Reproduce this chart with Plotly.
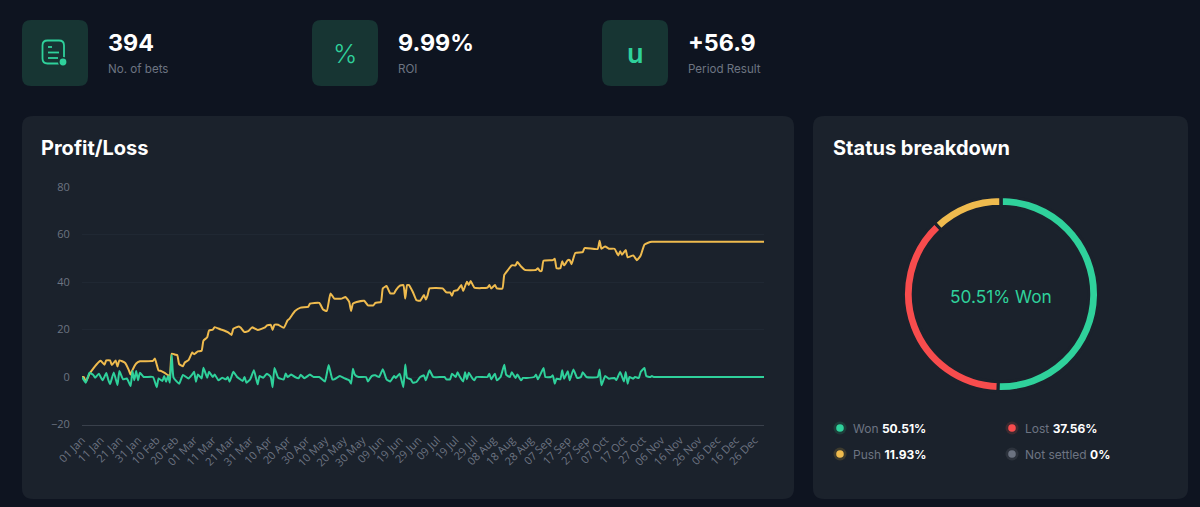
import pandas as pd
import plotly.graph_objects as go

START = pd.Timestamp("2024-01-01")

pl_days = [0,1,2,4,6,9,10,12,13,15,16,18,19,20,23,25,26,27,29,31,38,39,41,42,44,46,47,48,50,51,52,54,55,57,59,60,62,64,65,67,68,70,71,74,76,78,80,81,84,85,87,89,
           91,94,98,99,101,102,103,105,108,110,111,114,117,121,122,127,129,131,133,135,139,141,143,144,145,147,151,153,156,157,160,161,163,165,167,168,170,172,173,174,175,177,179,181,183,184,185,
           186,193,195,197,198,199,201,203,204,206,207,208,210,217,218,219,221,222,225,226,228,230,232,233,235,237,243,244,245,246,247,252,253,254,256,257,258,260,261,262,264,268,269,276,277,278,280,282,285,287,288,289,291,292,295,297,299,301,303,305,306,364,365]
pl_values = [0,0,-2,1.3,3.5,6.3,6.8,5.2,7,7,5,7,4.4,7,6,3,1,2.9,5.7,6.6,6.8,7.8,2.7,2.6,1.8,.8,.5,9.8,9.4,9.2,5.4,4.5,6.1,7.1,10.3,9.6,10.8,11,15.3,16.7,19.6,19.9,21,20.1,19.6,18.9,17.7,20.3,21.3,20.7,18.9,19.3,
             20.9,19.8,20.9,21.7,22,19.8,22,22,20.7,23.8,24.5,27.8,29.2,29.5,30.9,31.2,28.4,27.8,35.2,33,33,33.7,31.6,27.8,30.9,31.6,32.1,30.2,30.2,31.2,31.6,37.3,38.3,35.2,35.2,36.6,38.4,38.7,33,38.7,38.7,35.9,32.3,32.1,34.5,32.6,34.5,
             37.3,37.3,35.6,35.6,34.2,36.2,36.6,38.7,36.2,40.1,38.7,40.4,37.6,37.6,38.7,37.3,38.7,37.3,37.3,43,45.1,47,47,48.4,46.5,45.1,45.1,45.8,44.7,44.7,48.9,49.2,49.8,45.8,45.8,48.7,47,49.2,49.2,47.5,52.2,52.6,54.3,53.9,57.4,54,55,54,54,51.2,52.9,51.5,53.5,50.4,51.2,49.2,51.2,55.7,56.5,56.9,56.9,56.9,56.9]

daily_days = [0,2,4,6,7,9,11,13,14,15,17,19,20,22,24,26,27,28,29,30,31,33,38,40,41,43,44,45,46,47,48,49,52,54,57,59,60,61,62,64,65,67,68,70,71,73,75,77,78,79,81,83,84,86,87,88,90,92,94,95,97,99,101,102,103,105,108,
              109,110,112,114,116,117,119,122,124,127,130,132,134,135,138,140,143,144,145,146,148,152,153,155,157,159,161,163,165,167,168,170,172,173,174,176,177,179,181,183,184,186,188,194,195,197,
              198,200,201,202,204,205,206,207,209,210,211,217,218,219,221,222,224,226,227,229,230,232,233,235,236,238,242,243,244,247,248,251,252,253,254,256,257,258,260,261,263,265,267,268,270,276,277,278,280,282,285,286,288,290,291,292,293,295,296,298,299,301,302,304,305,306,307,364,365]
daily_values = [0,-2.4,1.8,.9,-.3,1.4,-1.4,1.7,-1,-3,1.9,-3.4,2.5,-1,-.6,-3.8,2.5,-1.4,2.5,-1.4,1.8,0,0,-4.3,-.6,-1.7,.4,-2,.4,-2.4,9.3,-.3,-2.8,.9,-.6,1.1,2.2,-2,1.1,-.6,3.9,-.3,2.2,0,1.1,-1.4,-.3,-1,0,-2,2.2,0,-.6,-1.7,0,-2.4,-1,2.8,-3.1,.4,-.3,1.4,0,-4.3,3.8,-.3,-1,
                1.5,0,1,0,-.5,1,-.5,1,0,0,-1.9,5,-1,-1,.4,-.4,-1.4,-2.8,3.5,1,0,0,-1.9,.4,.7,0,3.3,-1,-1.9,.4,-.4,1.4,-4.3,5.3,-.4,-1,-2.4,-2.1,0,.7,-1.4,2.8,0,0,-1,-1,
                1.4,0,2,.4,-1.9,2,-1,1.8,-.7,-1.4,0,0,1.4,-1,1.4,-1.4,0,5.2,1,0,2,-.4,1,-1.4,-.4,-.4,0,1,-1,3.8,0,0,.7,-2.8,-.7,-1,2.8,-.7,2.4,-1.4,3.2,-.4,0,2,0,0,3.2,-3.5,.4,-.7,-.4,-1.3,2.1,-1.9,2.1,-2.8,0,-.7,0,-.4,2.1,3.8,.4,0,.4,0,0,0,0]

tick_days = list(range(0, 361, 10))
tick_labels = ["01 Jan","11 Jan","21 Jan","31 Jan","10 Feb","20 Feb","01 Mar","11 Mar","21 Mar","31 Mar","10 Apr","20 Apr","30 Apr",
               "10 May","20 May","30 May","09 Jun","19 Jun","29 Jun","09 Jul","19 Jul","29 Jul","08 Aug","18 Aug","28 Aug","07 Sep",
               "17 Sep","27 Sep","07 Oct","17 Oct","27 Oct","06 Nov","16 Nov","26 Nov","06 Dec","16 Dec","26 Dec"]
y_ticks = [-20, 0, 20, 40, 60, 80]

status_labels = ["Won", "Lost", "Push", "Not settled"]
status_values = [50.51, 37.56, 11.93, 0]
kpi_values = ["394", "9.99%", "+56.9"]
kpi_labels = ["No. of bets", "ROI", "Period Result"]

BG, CARD, TILE = "#0e1420", "#1b222c", "#173533"
GREEN, YELLOW, RED, GREY = "#2fd19b", "#efbb4e", "#f84c4d", "#6b7280"
MUTED, WHITE, GRID = "#6d7482", "#ffffff", "#202833"
W, H = 1200, 507
FONT = "Inter"


def px(x):
    return x / W


def py(y):
    return 1 - y / H


def rrect(x0, y0, x1, y1, r, fill=None, line=None, lw=0):
    X0, X1, Y0, Y1 = px(x0), px(x1), py(y0), py(y1)
    rx, ry = r / W, r / H
    path = (f"M {X0+rx} {Y0} L {X1-rx} {Y0} Q {X1} {Y0} {X1} {Y0-ry} L {X1} {Y1+ry} Q {X1} {Y1} {X1-rx} {Y1} "
            f"L {X0+rx} {Y1} Q {X0} {Y1} {X0} {Y1+ry} L {X0} {Y0-ry} Q {X0} {Y0} {X0+rx} {Y0} Z")
    return dict(type="path", xref="paper", yref="paper", path=path, fillcolor=fill or "rgba(0,0,0,0)",
                line=dict(color=line or "rgba(0,0,0,0)", width=lw), layer="below")


def seg(x0, y, x1, color, lw):
    return dict(type="line", xref="paper", yref="paper", x0=px(x0), x1=px(x1), y0=py(y), y1=py(y),
                line=dict(color=color, width=lw), layer="above")


def dot(x, y, r, color):
    return dict(type="circle", xref="paper", yref="paper", x0=px(x - r), x1=px(x + r), y0=py(y + r), y1=py(y - r),
                fillcolor=color, line=dict(width=0), layer="above")


def label(x, y, text, size, color, weight=400, anchor="left", family=FONT):
    return dict(xref="paper", yref="paper", x=px(x), y=py(y), text=text, showarrow=False, xanchor=anchor,
                yanchor="middle", font=dict(family=family, size=size, color=color, weight=weight))


shapes = [rrect(22, 116, 794, 499, 11, CARD), rrect(813, 116, 1188, 499, 11, CARD)]
for left in (22, 312, 602):
    shapes.append(rrect(left, 20, left + 66, 86, 9, TILE))
shapes += [
    rrect(42.5, 40.5, 64, 63.5, 5, None, GREEN, 1.8),
    seg(48, 47, 52, GREEN, 1.8), seg(48, 52.5, 59, GREEN, 1.8), seg(48, 58, 58, GREEN, 1.8),
    dot(63, 62, 5, TILE), dot(63, 62, 3.4, GREEN),
]
legend_pos = [(840, 428), (1012, 428), (840, 454), (1012, 454)]
legend_col = [GREEN, RED, YELLOW, GREY]
halo_col = ["#1d3d3a", "#3d2a30", "#3d3a2d", "#2c323c"]
for (lx, ly), c, h in zip(legend_pos, legend_col, halo_col):
    shapes += [dot(lx, ly, 6.5, h), dot(lx, ly, 3.8, c)]

annotations = [
    label(345, 53.5, "%", 26, GREEN, 300, "center"),
    label(635, 53.5, "u", 27, GREEN, 600, "center"),
    label(39, 148, "Profit/Loss", 20, WHITE, 700),
    label(831, 148, "Status breakdown", 20, WHITE, 700),
    label(1001, 296, f"{status_values[0]}% {status_labels[0]}", 17.3, GREEN, 400, "center"),
]
for left, v, l in zip((106, 396, 686), kpi_values, kpi_labels):
    annotations.append(label(left, 43, v, 23.3, WHITE, 700))
    annotations.append(label(left, 69, l, 11.6, MUTED))
for (lx, ly), n, v in zip(legend_pos, status_labels, status_values):
    annotations.append(label(lx + 11, ly, f"<span style='color:{MUTED}'>{n}</span> <b>{v:g}%</b>", 12, WHITE))

fig = go.Figure()
fig.add_trace(go.Scatter(x=[START + pd.Timedelta(days=d) for d in pl_days], y=pl_values, mode="lines",
                         line=dict(color=YELLOW, width=2, shape="spline", smoothing=0.4), hoverinfo="skip"))
fig.add_trace(go.Scatter(x=[START + pd.Timedelta(days=d) for d in daily_days], y=daily_values, mode="lines",
                         line=dict(color=GREEN, width=2, shape="spline", smoothing=0.4), hoverinfo="skip"))
fig.add_trace(go.Pie(labels=status_labels, values=status_values, sort=False, direction="clockwise", rotation=0,
                     hole=0.9, textinfo="none", hoverinfo="skip",
                     marker=dict(colors=legend_col, line=dict(color=CARD, width=3)),
                     domain=dict(x=[px(903.5), px(1098.5)], y=[py(391.5), py(196.5)])))

fig.update_layout(
    width=W, height=H, margin=dict(l=0, r=0, t=0, b=0, pad=0, autoexpand=False), showlegend=False,
    paper_bgcolor=BG, plot_bgcolor=CARD, shapes=shapes, annotations=annotations,
    font=dict(family=FONT),
    xaxis=dict(domain=[px(82), px(764)], type="date",
               range=[START, START + pd.Timedelta(days=365)],
               tickmode="array", tickvals=[START + pd.Timedelta(days=d) for d in tick_days], ticktext=tick_labels,
               tickangle=-45, tickfont=dict(family="Open Sans", size=11, color=MUTED),
               ticks="outside", ticklen=4, tickcolor="rgba(0,0,0,0)", showgrid=False, zeroline=False,
               showline=True, linecolor="#39404b", linewidth=1),
    yaxis=dict(domain=[py(424.5), py(187)], range=[-20, 80], tickmode="array", tickvals=y_ticks,
               ticktext=[str(t).replace("-", "−") for t in y_ticks],
               tickfont=dict(family="Open Sans", size=11, color=MUTED),
               ticks="outside", ticklen=9, tickcolor="rgba(0,0,0,0)", gridcolor=GRID, gridwidth=1,
               zeroline=False, showline=False),
)
fig.write_html("out.html", config={"displayModeBar": False},
               post_script="document.body.style.margin='0';document.body.style.overflow='hidden';")
